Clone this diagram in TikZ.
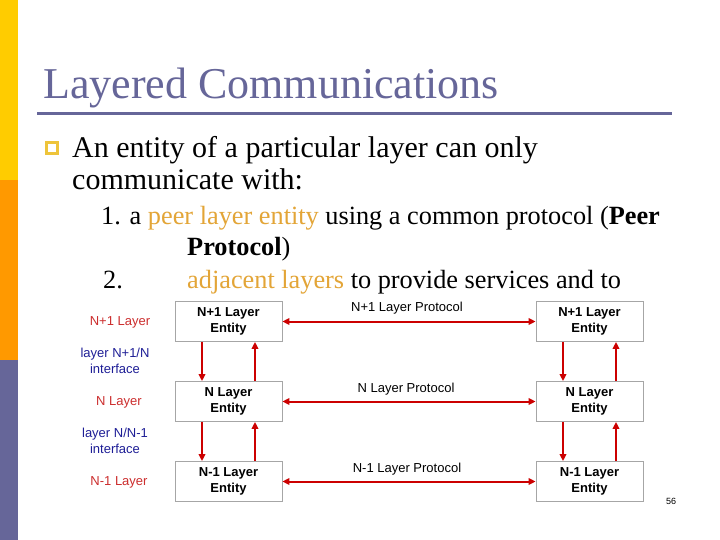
\documentclass[tikz,border=0pt]{standalone}
\usepackage{fontspec}
\setmainfont{Liberation Serif}
\newfontfamily\arialfont{Liberation Sans}
\usetikzlibrary{arrows.meta}
\definecolor{slidepurple}{HTML}{666699}
\definecolor{baryellow}{HTML}{FFCC00}
\definecolor{barorange}{HTML}{FF9900}
\definecolor{hilite}{HTML}{E3A537}
\definecolor{bulletcol}{HTML}{EEC43A}
\definecolor{arrowred}{HTML}{CC0000}
\definecolor{labelred}{HTML}{CC2E2E}
\definecolor{labelblue}{HTML}{1E1E96}
\definecolor{boxgray}{HTML}{A6A6A6}
\begin{document}
\begin{tikzpicture}[x=1pt,y=-1pt,
  txt/.style={inner sep=0pt, anchor=base west},
  bodyfont/.style={font=\fontsize{30}{30}\selectfont},
  itemfont/.style={font=\fontsize{26.3}{26.3}\selectfont},
  entity/.style={draw=boxgray, line width=0.8pt, fill=white, minimum width=107pt, minimum height=40pt,
    inner sep=0pt, align=center, font=\arialfont\bfseries\fontsize{13}{15.5}\selectfont},
  proto/.style={inner sep=0pt, anchor=base, font=\arialfont\fontsize{13}{15}\selectfont},
  sidered/.style={inner sep=0pt, anchor=base, text=labelred, font=\arialfont\fontsize{13}{15}\selectfont},
  sideblue/.style={inner sep=0pt, align=center, text=labelblue, font=\arialfont\fontsize{13}{16}\selectfont},
  arr/.style={draw=arrowred, line width=2pt, -{Triangle[length=7pt,width=6.5pt]}},
  darr/.style={draw=arrowred, line width=2pt, {Triangle[length=7pt,width=6.5pt]}-{Triangle[length=7pt,width=6.5pt]}}
]
\useasboundingbox (0,0) rectangle (720,540);
\fill[white] (0,0) rectangle (720,540);
% side bar
\fill[baryellow] (0,0) rectangle (18,180);
\fill[barorange] (0,180) rectangle (18,360);
\fill[slidepurple] (0,360) rectangle (18,540);
% title
\node[txt, text=slidepurple, font=\fontsize{44}{44}\selectfont] (title) at (43,99) {Layered Communications};
\draw[slidepurple, line width=3pt] (37,114) -- (672,114);
% bullet
\draw[bulletcol, line width=2.7pt] (46.3,142.3) rectangle (57.7,153.7);
\node[txt, bodyfont] (b1) at (72,158) {An entity of a particular layer can only};
\node[txt, bodyfont] (b2) at (72,190) {communicate with:};
\node[txt, itemfont] (i1) at (101,225) {1. a \textcolor{hilite}{peer layer entity} using a common protocol (\textbf{Peer}};
\node[txt, itemfont] (i1b) at (187,255) {\textbf{Protocol})};
\node[txt, itemfont] (i2n) at (103,288) {2.};
\node[txt, itemfont] (i2) at (187,288) {\textcolor{hilite}{adjacent layers} to provide services and to};
% entities
\node[entity] (l1) at (228.5,321.5) {N+1 Layer\\Entity};
\node[entity] (l2) at (228.5,401.5) {N Layer\\Entity};
\node[entity] (l3) at (228.5,481.5) {N-1 Layer\\Entity};
\node[entity] (r1) at (589.5,321.5) {N+1 Layer\\Entity};
\node[entity] (r2) at (589.5,401.5) {N Layer\\Entity};
\node[entity] (r3) at (589.5,481.5) {N-1 Layer\\Entity};
% peer protocols
\draw[darr] (l1.east) -- (r1.west);
\draw[darr] (l2.east) -- (r2.west);
\draw[darr] (l3.east) -- (r3.west);
\node[proto] (p1) at (407,311) {N+1 Layer Protocol};
\node[proto] (p2) at (406,392) {N Layer Protocol};
\node[proto] (p3) at (407,472) {N-1 Layer Protocol};
% vertical service arrows
\foreach \a/\b in {l1/l2, l2/l3, r1/r2, r2/r3}{
  \draw[arr] ([xshift=-26.5pt]\a.south) -- ([xshift=-26.5pt]\b.north);
  \draw[arr] ([xshift=26.5pt]\b.north) -- ([xshift=26.5pt]\a.south);
}
% side labels
\node[sidered] (s1) at (120,325) {N+1 Layer};
\node[sideblue] (s2) at (115,361) {layer N+1/N\\interface};
\node[sidered] (s3) at (119,405) {N Layer};
\node[sideblue] (s4) at (115,441) {layer N/N-1\\interface};
\node[sidered] (s5) at (119,485) {N-1 Layer};
% page number
\node[inner sep=0pt, font=\arialfont\fontsize{9}{9}\selectfont] (pg) at (671,501) {56};
\end{tikzpicture}
\end{document}
